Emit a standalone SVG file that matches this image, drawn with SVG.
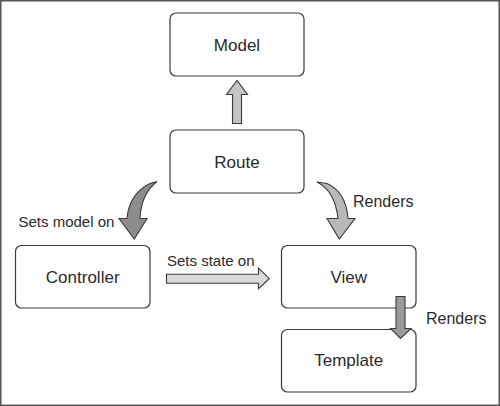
<svg xmlns="http://www.w3.org/2000/svg" width="500" height="406" viewBox="0 0 500 406">
<style>
.box{fill:#fff;stroke:#3a3a3a;stroke-width:1.2}
.nt{font-family:"Liberation Sans",Arial,sans-serif;font-size:17px;fill:#2a2a2a;text-anchor:middle}
.lb{font-family:"Liberation Sans",Arial,sans-serif;font-size:15px;fill:#2a2a2a}
.ar{stroke:#3a3a3a;stroke-width:1.1;stroke-linejoin:miter}
</style>
<rect x="0.75" y="0.75" width="498.5" height="404.5" fill="#fff" stroke="#555" stroke-width="1.5"/>
<g id="model"><rect class="box" x="170" y="13" width="134" height="63" rx="6"/><text class="nt" x="237" y="51">Model</text></g>
<g id="route"><rect class="box" x="170" y="130" width="134" height="63" rx="6"/><text class="nt" x="237" y="168">Route</text></g>
<g id="controller"><rect class="box" x="15.5" y="245.5" width="134.5" height="62.5" rx="6"/><text class="nt" x="82.7" y="283">Controller</text></g>
<g id="view"><rect class="box" x="281.5" y="245.5" width="134.5" height="62.5" rx="6"/><text class="nt" x="348.7" y="283">View</text></g>
<g id="template"><rect class="box" x="281.5" y="329.5" width="134.5" height="62.5" rx="6"/><text class="nt" x="348.7" y="366">Template</text></g>
<g id="connectors">
<path class="ar" fill="#c4c4c4" d="M232.5,123.5 L241.5,123.5 L241.5,94.5 L247.5,94.5 L237,80.5 L226.5,94.5 L232.5,94.5 Z"/>
<path class="ar" fill="#8c8c8c" d="M157,181.5 Q141,194 140,218.5 L147,218.5 L134.3,239 L119,218.5 L127,218.5 Q129,194 150,183.5 Z"/>
<path class="ar" fill="#b8b8b8" d="M317,182 Q335,191 338,218.5 L327,218.5 L339.3,239 L355,218.5 L348,218.5 Q346,192 327,183.5 Z"/>
<path class="ar" fill="#d9d9d9" d="M166.5,274.3 L258.5,274.3 L258.5,268 L269.3,278.7 L258.5,288.7 L258.5,283.3 L166.5,283.3 Z"/>
<path class="ar" fill="#9a9a9a" d="M396,296.5 L405,296.5 L405,328.5 L411,328.5 L400.5,338.5 L390.5,328.5 L396,328.5 Z"/>
<text class="lb" x="18.5" y="226.7">Sets model on</text>
<text class="lb" x="353" y="206.7" style="font-size:16px">Renders</text>
<text class="lb" x="167" y="265.7">Sets state on</text>
<text class="lb" x="426" y="324" style="font-size:16px">Renders</text>
</g>
</svg>
